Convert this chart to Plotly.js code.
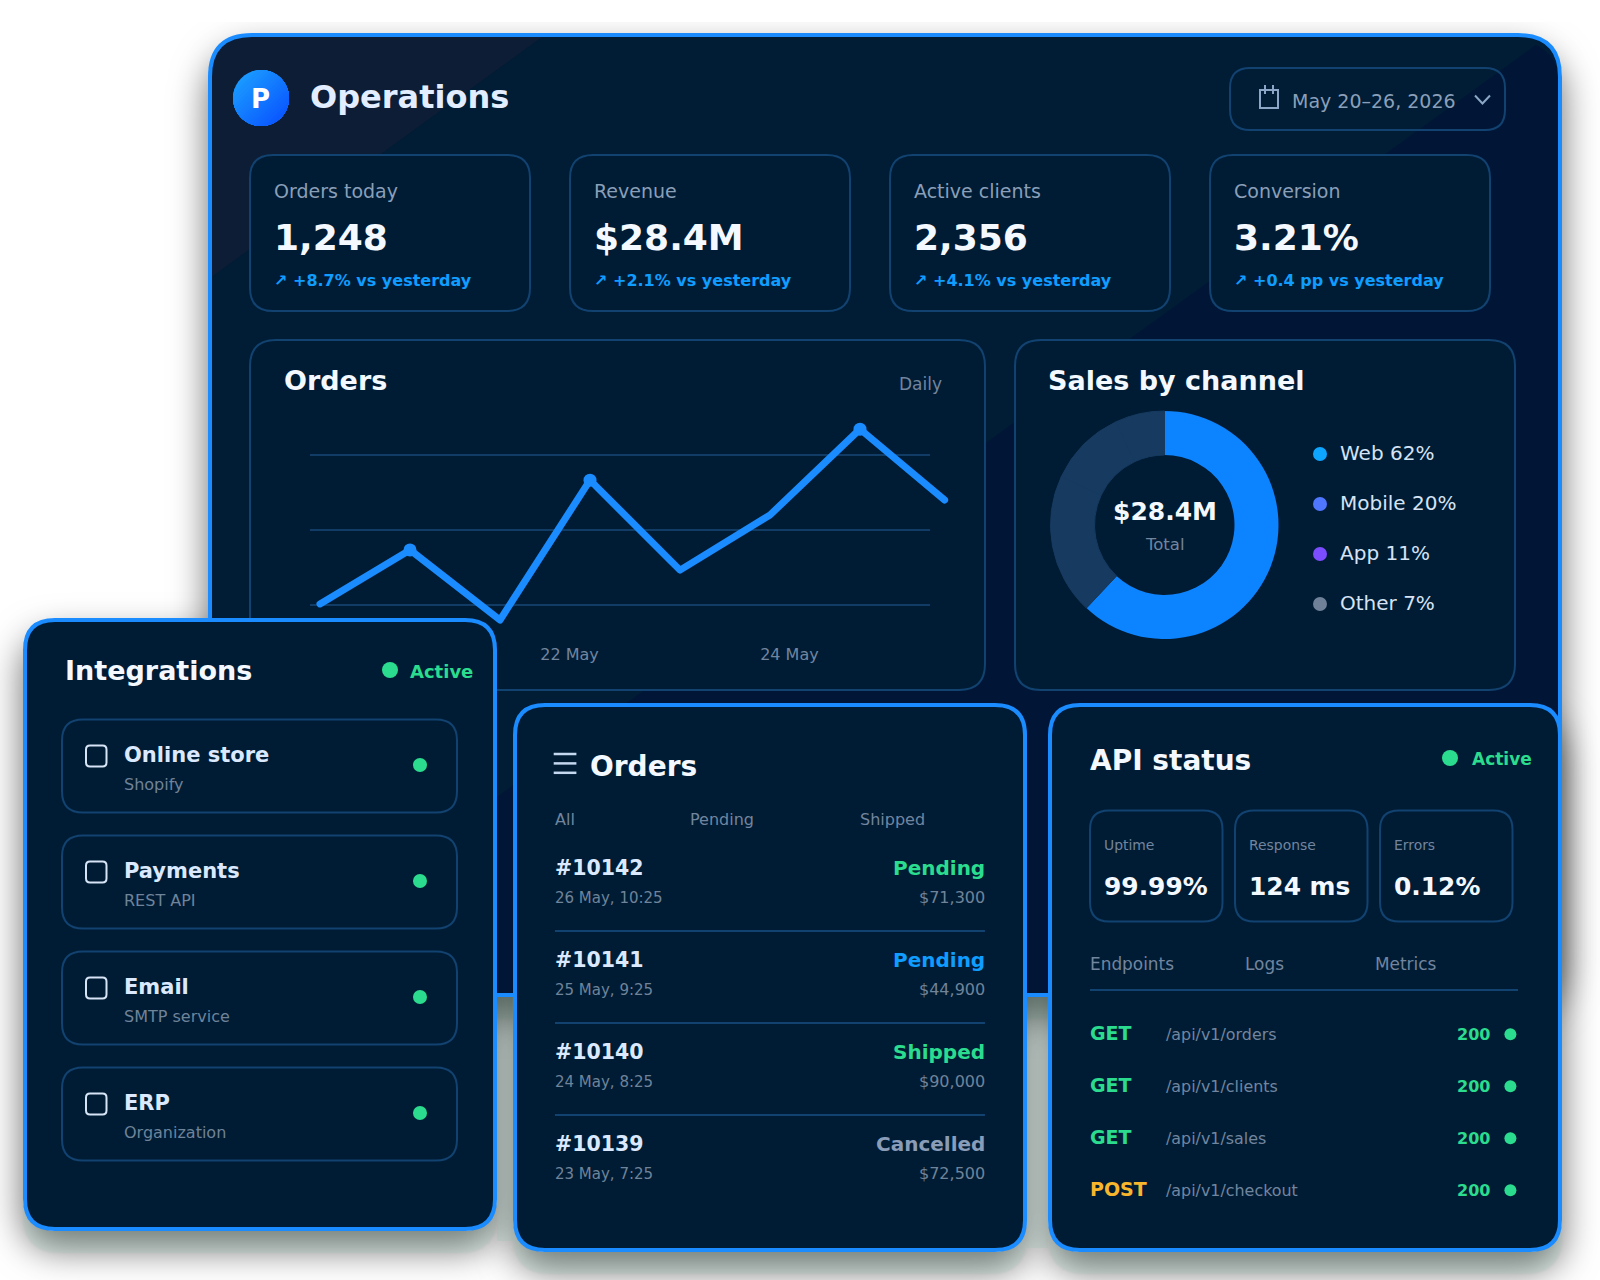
<!DOCTYPE html>
<html><head><meta charset="utf-8">
<script src="https://cdn.plot.ly/plotly-3.0.1.min.js"></script>
<style>
html,body{margin:0;padding:0;background:#fff;width:1600px;height:1280px;overflow:hidden}
#stage{position:relative;width:1600px;height:1280px;overflow:hidden}
.sh{position:absolute;box-shadow:0 22px 2px rgba(142,192,172,.2),0 18px 36px rgba(0,0,0,.58)}
.gap{position:absolute;background:rgba(142,192,172,.2)}
#chart{position:absolute;left:0;top:0;width:1600px;height:1280px}
.js-line{stroke-linecap:round!important;stroke-linejoin:round!important}
</style></head><body>
<div id="stage">
<div style="position:absolute;inset:22px 0 0 0;overflow:hidden">
<div class="sh" style="left:208px;top:11px;width:1354px;height:964px;border-radius:44px"></div>
</div>
<div class="sh" style="left:23px;top:618px;width:474px;height:613px;border-radius:32px"></div>
<div class="sh" style="left:513px;top:703px;width:514px;height:549px;border-radius:32px"></div>
<div class="sh" style="left:1048px;top:703px;width:514px;height:549px;border-radius:32px"></div>
<div class="gap" style="left:497px;top:997px;width:16px;height:244px"></div>
<div class="gap" style="left:1027px;top:997px;width:21px;height:251px"></div>
<div id="chart"></div>
</div>
<script>
// ---- data ----
const orderDays = [0, 1, 2, 3, 4, 5, 6, 6.94];
const orderValues = [803, 947, 760, 1133, 893, 1040, 1269, 1080];
const orderMarkerSizes = [0, 13, 0, 13, 0, 0, 13, 0];
const orderTickDays = [2.773, 5.216];
const orderTickLabels = ['22 May', '24 May'];
const orderGridValues = [800, 1000, 1200];
const orderGridSpan = [-0.111, 6.778];

const channelNames = ['Web', 'Mobile', 'App', 'Other'];
const channelShares = [62, 20, 11, 7];
const channelSliceColors = ['#0d84ff', '#163a60', '#163a60', '#163a60'];
const channelDotColors = ['#0ea5ff', '#4f76ff', '#7c4dff', '#6f8099'];

const kpiLabels = ['Orders today', 'Revenue', 'Active clients', 'Conversion'];
const kpiValues = ['1,248', '$28.4M', '2,356', '3.21%'];
const kpiDeltas = ['↗ +8.7% vs yesterday', '↗ +2.1% vs yesterday', '↗ +4.1% vs yesterday', '↗ +0.4 pp vs yesterday'];

const integrationNames = ['Online store', 'Payments', 'Email', 'ERP'];
const integrationSubs = ['Shopify', 'REST API', 'SMTP service', 'Organization'];

const orderTabs = ['All', 'Pending', 'Shipped'];
const orderIds = ['#10142', '#10141', '#10140', '#10139'];
const orderDates = ['26 May, 10:25', '25 May, 9:25', '24 May, 8:25', '23 May, 7:25'];
const orderStatuses = ['Pending', 'Pending', 'Shipped', 'Cancelled'];
const orderStatusColors = ['#2bdc8f', '#0f9dff', '#2bdc8f', '#8a9db8'];
const orderAmounts = ['$71,300', '$44,900', '$90,000', '$72,500'];

const apiMetricLabels = ['Uptime', 'Response', 'Errors'];
const apiMetricValues = ['99.99%', '124 ms', '0.12%'];
const apiTabs = ['Endpoints', 'Logs', 'Metrics'];
const apiMethods = ['GET', 'GET', 'GET', 'POST'];
const apiMethodColors = ['#2bdc8f', '#2bdc8f', '#2bdc8f', '#f8b62d'];
const apiPaths = ['/api/v1/orders', '/api/v1/clients', '/api/v1/sales', '/api/v1/checkout'];
const apiCodes = ['200', '200', '200', '200'];

// ---- layout helpers (pixel position to paper fraction) ----
const W = 1600, H = 1280;
const fx = x => (x / W).toFixed(5), fy = y => (1 - y / H).toFixed(5);
const P = (x, y) => fx(x) + ',' + fy(y);
const BLUE = '#1a8cff', CARD = '#001c35', EDGE = '#114270', GREEN = '#2bdc8f',
      MUTED = '#72859e', LABEL = '#8a9fb8', INK = '#dbe9ff', WHITE = '#f4f8ff';
const shapes = [], annotations = [];
function rrPath(x, y, w, h, r) {
  const a = x + w, b = y + h;
  return 'M' + P(x + r, y) + 'L' + P(a - r, y) + 'Q' + P(a, y) + ' ' + P(a, y + r) +
    'L' + P(a, b - r) + 'Q' + P(a, b) + ' ' + P(a - r, b) + 'L' + P(x + r, b) +
    'Q' + P(x, b) + ' ' + P(x, b - r) + 'L' + P(x, y + r) + 'Q' + P(x, y) + ' ' + P(x + r, y) + 'Z';
}
function box(x, y, w, h, r, fill, stroke, sw, layer) {
  shapes.push({type: 'path', xref: 'paper', yref: 'paper', path: rrPath(x, y, w, h, r), fillcolor: fill || 'rgba(0,0,0,0)',
    line: {color: stroke || 'rgba(0,0,0,0)', width: stroke ? sw : 0}, layer: layer || 'below'});
}
function poly(d, fill, layer) {
  shapes.push({type: 'path', xref: 'paper', yref: 'paper', path: d, fillcolor: fill, line: {width: 0}, layer: layer || 'below'});
}
function dot(cx, cy, r, fill, layer) {
  shapes.push({type: 'circle', xref: 'paper', yref: 'paper', x0: fx(cx - r), x1: fx(cx + r), y0: fy(cy + r), y1: fy(cy - r),
    fillcolor: fill, line: {width: 0}, layer: layer || 'below'});
}
function seg(x0, y0, x1, y1, color, w, layer) {
  shapes.push({type: 'line', xref: 'paper', yref: 'paper', x0: fx(x0), x1: fx(x1), y0: fy(y0), y1: fy(y1),
    line: {color: color, width: w}, layer: layer || 'below'});
}
function text(s, x, base, size, color, bold, anchor) {
  const px = anchor === 'right' ? x + 2 : (anchor === 'center' ? x : x - 2);
  annotations.push({text: s, xref: 'paper', yref: 'paper', x: +fx(px), y: +fy(base - 0.346 * size), xanchor: anchor || 'left', yanchor: 'middle',
    showarrow: false, borderpad: 0, align: anchor || 'left',
    font: {family: 'DejaVu Sans', size: size, color: color, weight: bold ? 700 : 400}});
}
function logo(cx, cy, R) {
  const from = [26, 152, 255], to = [11, 90, 255], bands = 20;
  for (let i = 0; i < bands; i++) {
    const t = -R + (2 * R * i) / bands, half = Math.acos(Math.max(-1, t / R));
    const mix = i / (bands - 1), c = from.map((v, k) => Math.round(v + (to[k] - v) * mix));
    let d = '';
    for (let k = 0; k <= 40; k++) {
      const a = Math.PI / 4 - half + (2 * half * k) / 40;
      d += (k ? 'L' : 'M') + P(cx + R * Math.cos(a), cy + R * Math.sin(a));
    }
    poly(d + 'Z', 'rgb(' + c.join(',') + ')');
  }
}

// ---- main panel ----
box(210, 35, 1350, 960, 42, '#011c35', null, 0);
poly('M' + P(542, 37) + 'L' + P(252, 37) + 'Q' + P(210, 37) + ' ' + P(210, 79) + 'L' + P(210, 278) + 'Z', '#0d1d36');
poly('M' + P(1536, 45) + 'Q' + P(1558, 56) + ' ' + P(1558, 79) + 'L' + P(1558, 950) + 'Q' + P(1558, 993) + ' ' + P(1515, 993) + 'L' + P(226, 993) + 'Z', '#011637');
box(210, 35, 1350, 960, 42, null, BLUE, 4);

logo(261, 98, 28);
text('P', 261, 107.5, 26, '#ffffff', true, 'center');
text('Operations', 311, 108.5, 32, '#e2eeff', true);

// date control
box(1230, 68, 275, 62, 20, null, EDGE, 2);
shapes.push({type: 'path', xref: 'paper', yref: 'paper', layer: 'below', fillcolor: 'rgba(0,0,0,0)', line: {color: '#8ba6c6', width: 2},
  path: 'M' + P(1260, 90) + 'L' + P(1278, 90) + 'L' + P(1278, 108) + 'L' + P(1260, 108) + 'Z' +
        'M' + P(1265, 85) + 'L' + P(1265, 94) + 'M' + P(1273, 85) + 'L' + P(1273, 94)});
text('May 20–26, 2026', 1293, 108, 19, LABEL);
shapes.push({type: 'path', xref: 'paper', yref: 'paper', layer: 'below', fillcolor: 'rgba(0,0,0,0)', line: {color: '#8ba6c6', width: 2},
  path: 'M' + P(1475, 95.5) + 'L' + P(1482.5, 103.5) + 'L' + P(1490, 95.5)});

// KPI cards
kpiLabels.forEach((lab, i) => {
  const x = 250 + i * 320;
  box(x, 155, 280, 156, 23, CARD, EDGE, 2);
  text(lab, x + 25, 198, 19, LABEL);
  text(kpiValues[i], x + 25, 250, 36, WHITE, true);
  text(kpiDeltas[i], x + 25, 285.9, 16, '#0f9dff', true);
});

// chart cards
box(250, 340, 735, 350, 26, CARD, EDGE, 2);
box(1015, 340, 500, 350, 26, CARD, EDGE, 2);
text('Orders', 284.6, 390.3, 27, WHITE, true);
text('Daily', 941.4, 389.5, 17, MUTED, false, 'right');
text('Sales by channel', 1049, 390.3, 27, WHITE, true);
text('$28.4M', 1165, 520, 25, WHITE, true, 'center');
text('Total', 1165, 550, 16.5, MUTED, false, 'center');
channelNames.forEach((n, i) => {
  const y = 454 + i * 50;
  dot(1320, y, 7, channelDotColors[i]);
  text(n + ' ' + channelShares[i] + '%', 1341, y + 6, 20, '#d5e3f5');
});

// Integrations card
box(25, 620, 470, 609, 30, CARD, BLUE, 4, 'above');
text('Integrations', 66, 680, 27, WHITE, true);
dot(390, 670, 8, GREEN, 'above');
text('Active', 410.7, 678, 18, GREEN, true);
integrationNames.forEach((n, i) => {
  const y = 719.5 + i * 116;
  box(62, y, 395, 93, 21, CARD, EDGE, 2, 'above');
  box(86, y + 26, 20.5, 21, 4, null, '#d6e4f5', 2, 'above');
  text(n, 124.7, y + 43.2, 21, INK, true);
  text(integrationSubs[i], 124.7, y + 70.5, 16, '#6f8399');
  dot(420, y + 45.5, 7, GREEN, 'above');
});

// Orders list card
box(515, 705, 510, 545, 30, CARD, BLUE, 4, 'above');
[754, 763.4, 772.8].forEach(y => seg(553.7, y, 576.4, y, '#c4d8ef', 2.5, 'above'));
text('Orders', 590.6, 775.8, 28, WHITE, true);
[555.9, 690.9, 860.7].forEach((x, i) => text(orderTabs[i], x, 825.4, 16, MUTED));
orderIds.forEach((id, i) => {
  const d = i * 92;
  text(id, 555.5, 875.2 + d, 20.5, INK, true);
  text(orderDates[i], 555.5, 903.1 + d, 15, '#6f8399');
  text(orderStatuses[i], 984.2, 875.2 + d, 20, orderStatusColors[i], true, 'right');
  text(orderAmounts[i], 984.2, 902.7 + d, 16, '#6f8399', false, 'right');
  if (i < 3) seg(555, 931 + d, 985, 931 + d, EDGE, 2, 'above');
});

// API card
box(1050, 705, 510, 545, 30, CARD, BLUE, 4, 'above');
text('API status', 1090.7, 770, 28, WHITE, true);
dot(1450, 758, 8, GREEN, 'above');
text('Active', 1472.8, 765, 17, GREEN, true);
[1090, 1235, 1380].forEach((x, i) => {
  box(x, 810.5, 132.5, 111, 19, CARD, EDGE, 2, 'above');
  text(apiMetricLabels[i], x + 15.3, 850, 13.9, MUTED);
  text(apiMetricValues[i], x + 14.7, 895, 24.9, WHITE, true);
});
[1090.7, 1245.6, 1375.8].forEach((x, i) => text(apiTabs[i], x, 970.3, 16.9, MUTED));
seg(1090, 990, 1518, 990, EDGE, 2, 'above');
apiMethods.forEach((m, i) => {
  const y = 1034.2 + i * 52;
  text(m, 1090.7, y + 5.5, 19, apiMethodColors[i], true);
  text(apiPaths[i], 1167, y + 5.5, 15.9, MUTED);
  text(apiCodes[i], 1489, y + 6, 16, GREEN, true, 'right');
  dot(1510.4, y, 6, GREEN, 'above');
});

// grid lines on the chart's own scales
orderGridValues.forEach(v => shapes.push({type: 'line', xref: 'x', yref: 'y', x0: orderGridSpan[0], x1: orderGridSpan[1], y0: v, y1: v,
  line: {color: '#103c65', width: 2}, layer: 'below'}));

// ---- traces ----
const lineTrace = {
  type: 'scatter', mode: 'lines+markers', x: orderDays, y: orderValues, cliponaxis: false,
  line: {color: BLUE, width: 7}, marker: {color: BLUE, opacity: 1, size: orderMarkerSizes, line: {width: 0}}, hoverinfo: 'skip'
};
const donutTrace = {
  type: 'pie', labels: channelNames, values: channelShares, hole: 0.614, sort: false, direction: 'clockwise', rotation: 0,
  textinfo: 'none', hoverinfo: 'skip', showlegend: false,
  marker: {colors: channelSliceColors, line: {color: channelSliceColors, width: [0, 1, 1, 1]}},
  domain: {x: [1050.5 / W, 1278.5 / W], y: [1 - 639 / H, 1 - 411 / H]}
};
const layout = {
  width: W, height: H, margin: {l: 0, r: 0, t: 0, b: 0}, autosize: false, showlegend: false,
  paper_bgcolor: 'rgba(0,0,0,0)', plot_bgcolor: 'rgba(0,0,0,0)',
  font: {family: 'DejaVu Sans'},
  xaxis: {domain: [300 / W, 960 / W], range: [-0.2222, 7.1111], showgrid: false, zeroline: false, showline: false, ticks: 'outside', ticklen: 0, tickcolor: 'rgba(0,0,0,0)',
    tickmode: 'array', tickvals: orderTickDays, ticktext: orderTickLabels, tickfont: {family: 'DejaVu Sans', size: 16, color: '#71859f'}},
  yaxis: {domain: [1 - 640 / H, 1 - 410 / H], range: [706.67, 1320], showgrid: false, zeroline: false, showline: false,
    showticklabels: false, ticks: '', tickmode: 'array', tickvals: orderGridValues},
  shapes: shapes, annotations: annotations
};
Plotly.newPlot('chart', [lineTrace, donutTrace], layout, {displayModeBar: false, staticPlot: true});
</script>
</body></html>
